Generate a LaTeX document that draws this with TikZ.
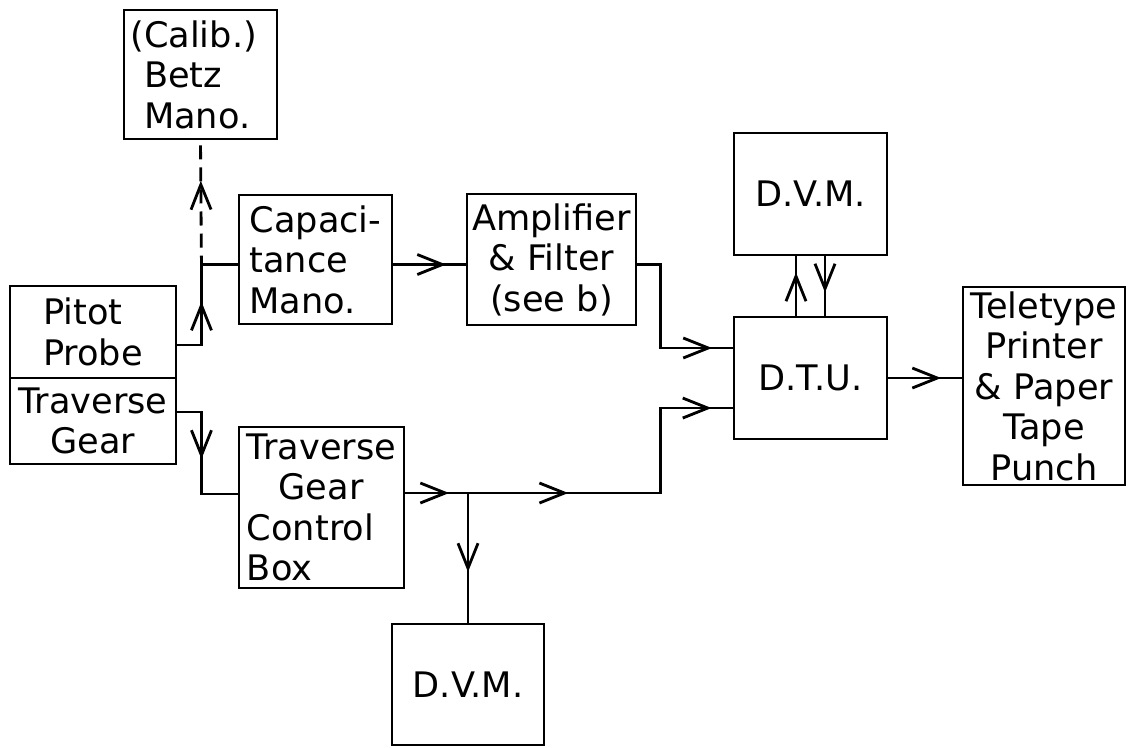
\documentclass[tikz,border=0pt]{standalone}
\usepackage{fontspec}
\setmainfont{DejaVu Sans}
\usetikzlibrary{arrows.meta}
\usetikzlibrary{calc}
\usetikzlibrary{decorations.markings}
\tikzset{
    box/.style={draw, line width=0.8pt, inner sep=1pt, align=center,
        font=\fontsize{10}{11.5}\selectfont},
    wire/.style={line width=0.8pt},
    % open arrow head somewhere along a wire
    arrowat/.style={postaction={decorate, solid, decoration={markings,
        mark=at position #1 with {\arrow{Straight Barb[length=2.5mm, width=2mm]}}}}},
}

\begin{document}
\begin{tikzpicture}[x=0.01cm, y=-0.01cm]
    \useasboundingbox (0,0) rectangle (1134,747);

    % blocks
    \node[box, align=left, minimum width=1.53cm, minimum height=1.29cm] (calib) at (200.5,74.5) {\llap{(}Calib.)\\Betz\\Mano.};
    \node[box, align=left, minimum width=1.66cm, minimum height=0.92cm] (pitot) at (93,332) {Pitot\\Probe};
    \node[box, minimum width=1.66cm, minimum height=0.86cm] (trav) at (93,421) {Traverse\\Gear};
    \node[box, align=left, minimum width=1.53cm, minimum height=1.29cm] (capac) at (315.5,259.5) {Capaci-\\tance\\Mano.};
    \node[box, minimum width=1.69cm, minimum height=1.31cm] (amp) at (551.5,259.5) {Amplifier\\\& Filter\\(see b)};
    \node[box, minimum width=1.53cm, minimum height=1.22cm] (dvmtop) at (810.5,194) {D.V.M.};
    \node[box, minimum width=1.53cm, minimum height=1.22cm] (dtu) at (810.5,378) {D.T.U.};
    \node[box, minimum width=1.62cm, minimum height=1.98cm] (tele) at (1044,386) {Teletype\\Printer\\\& Paper\\Tape\\Punch};
    \node[box, align=left, minimum width=1.65cm, minimum height=1.61cm] (tgc) at (321.5,507.5) {Traverse\\\hspace{0.9em}Gear\\Control\\Box};
    \node[box, minimum width=1.52cm, minimum height=1.21cm] (dvmbot) at (468,684.5) {D.V.M.};

    % pressure side
    \draw[wire, arrowat=0.48] ([yshift=-0.13cm]pitot.east) -- ++(24,0)
        |- ([yshift=-0.05cm]capac.west) coordinate[pos=0.5] (pj);
    \draw[wire, dash pattern=on 0.14cm off 0.08cm, dash phase=0.05cm, arrowat=0.675] (pj) -- (calib.south);
    \draw[wire, arrowat=0.73] ([yshift=-0.05cm]capac.east) -- ([yshift=-0.05cm]amp.west);
    \draw[wire, arrowat=0.885] ([yshift=-0.05cm]amp.east) -- ++(23,0) coordinate (bend)
        |- ([yshift=0.30cm]dtu.west);

    % traverse side
    \draw[wire, arrowat=0.5] ([yshift=0.09cm]trav.east) -- ++(24,0) |- ([yshift=0.135cm]tgc.west);
    \draw[wire, arrowat=0.106, arrowat=0.395, arrowat=0.949] ([yshift=0.145cm]tgc.east) coordinate (tgcout)
        -- (tgcout -| bend) |- ([yshift=-0.30cm]dtu.west);
    \draw[wire, arrowat=0.61] (dvmbot.north |- tgcout) -- (dvmbot.north);

    % D.T.U. to the meter and the printer
    \draw[wire, arrowat=0.73] ([xshift=-0.145cm]dtu.north) -- ([xshift=-0.145cm]dvmtop.south);
    \draw[wire, arrowat=0.61] ([xshift=0.145cm]dvmtop.south) -- ([xshift=0.145cm]dtu.north);
    \draw[wire, arrowat=0.72] (dtu.east) -- (dtu.east -| tele.west);
\end{tikzpicture}
\end{document}
